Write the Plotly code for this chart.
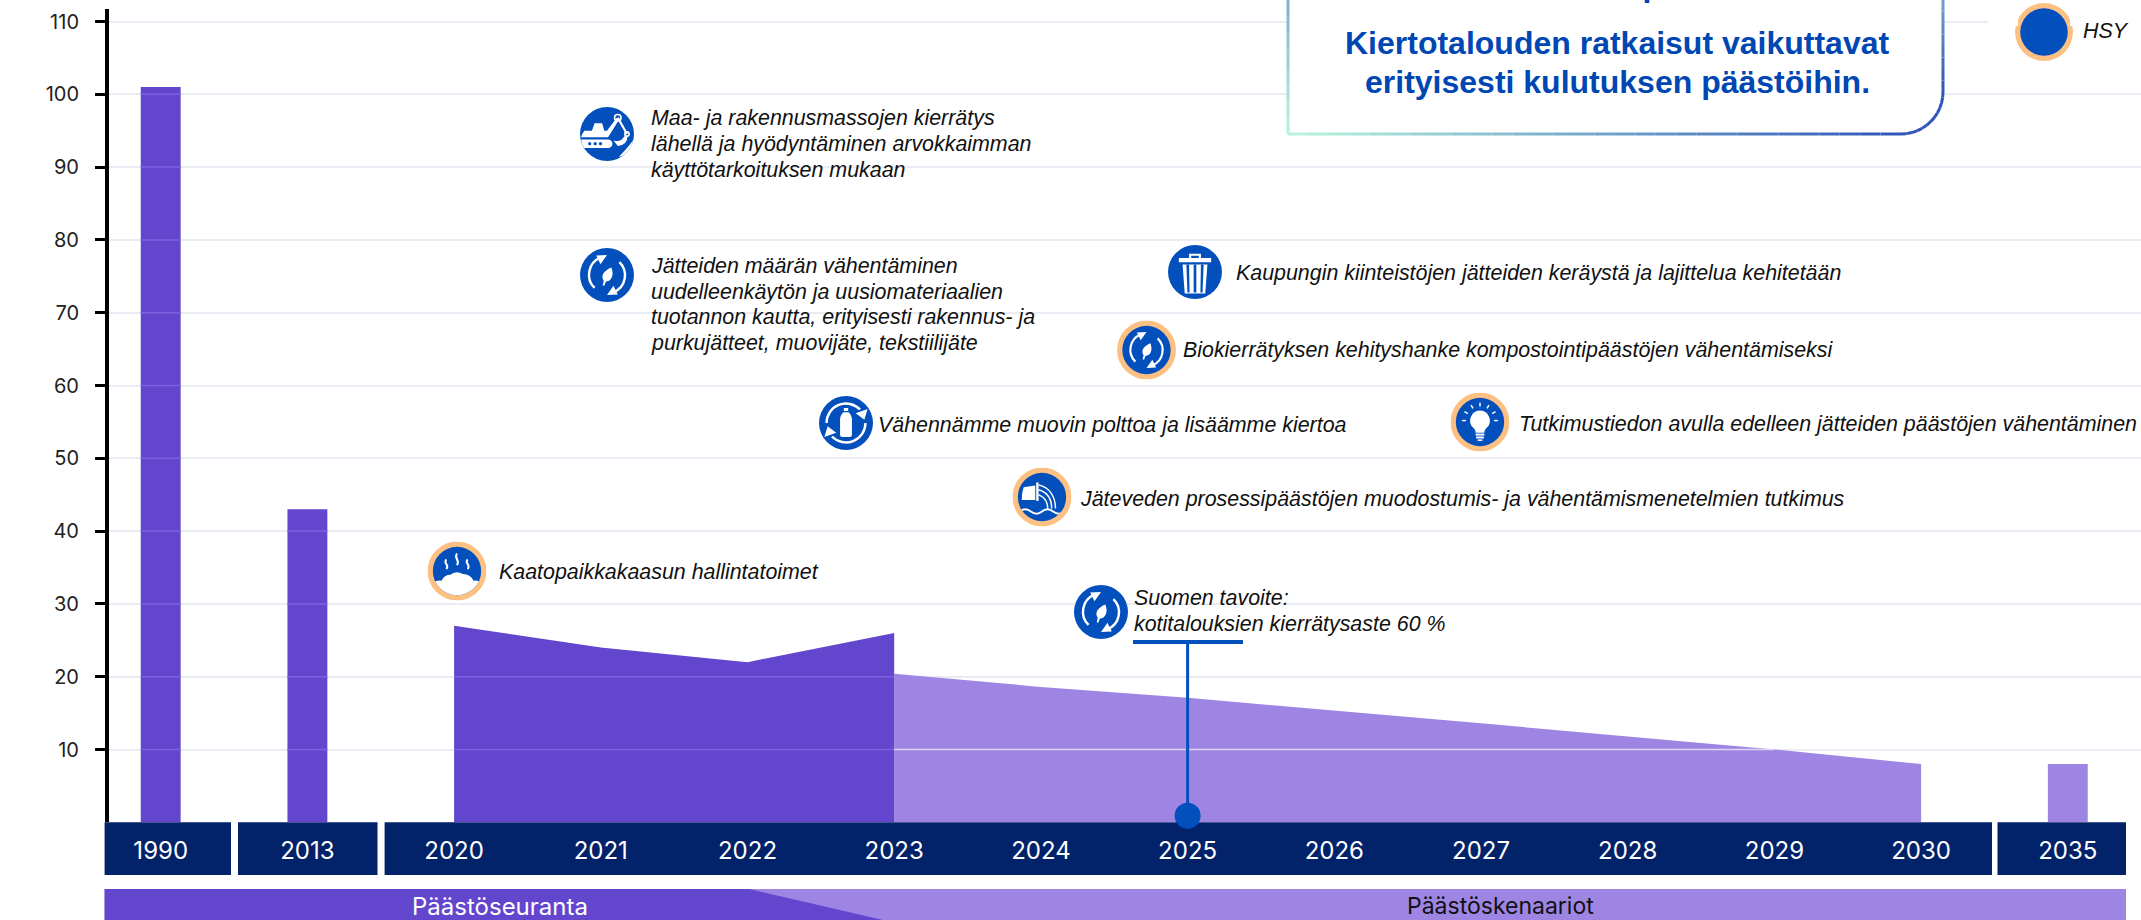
import base64, math
import plotly.graph_objects as go

W, H = 2141, 920
PLOT_L, PLOT_R, PLOT_T, PLOT_B = 109, 2141, 9, 822.3

categories = ["1990", "2013", "2020", "2021", "2022", "2023", "2024", "2025", "2026",
              "2027", "2028", "2029", "2030", "2035"]
y_ticks = [10, 20, 30, 40, 50, 60, 70, 80, 90, 100, 110]

bar_years = ["1990", "2013"]
bar_values = [101, 43]
history_years = ["2020", "2021", "2022", "2023"]
history_values = [27, 24, 22, 26]
scenario_years = ["2023", "2024", "2025", "2026", "2027", "2028", "2029", "2030"]
scenario_values = [20.4, 18.6, 17.1, 15.4, 13.6, 11.8, 10, 8]
target_bar_years = ["2035"]
target_bar_values = [8]
goal_year = ["2025", "2025"]
goal_values = [0.9, 24.8]

DARK, LIGHT, NAVY, BLUE, RING = "#6246cd", "#9e85e4", "#02226a", "#0350bd", "#fcc182"
GRID = "#e9edf3"


def px(x):
    return x / W


def py(y):
    return 1 - y / H


ARROWS = ('<path d="M27 74 A34 34 0 0 1 38 18" fill="none" stroke="#fff" stroke-width="4.5"/>'
          '<polygon points="50,13 38,30 30,14" fill="#fff"/>'
          '<path d="M73 26 A34 34 0 0 1 62 82" fill="none" stroke="#fff" stroke-width="4.5"/>'
          '<polygon points="50,87 62,70 70,86" fill="#fff"/>')
LEAF = '<path d="M58 36 C64 50 58 62 48 62 L45 70 L42 69 L44 61 C37 50 46 41 58 36Z" fill="#fff"/>'
BOTTLE = ('<path d="M14 50 A36 36 0 0 1 76 25" fill="none" stroke="#fff" stroke-width="4.5"/>'
          '<polygon points="90,24 84,44 68,32" fill="#fff"/>'
          '<path d="M86 50 A36 36 0 0 1 24 75" fill="none" stroke="#fff" stroke-width="4.5"/>'
          '<polygon points="10,76 16,56 32,68" fill="#fff"/>'
          '<path d="M46 22 h8 v6 h-8z M45 30 h10 c4 5 6 8 6 13 v29 a4 4 0 0 1 -4 4 h-14 a4 4 0 0 1 -4 -4 v-29 c0 -5 2 -8 6 -13z" fill="#fff"/>')
TRASH = ('<path d="M39 16 h22 v8 h-4 v-4 h-14 v4 h-4z M20 24 h60 v8 h-60z" fill="#fff"/>'
         '<path d="M27 36 h46 l-4 54 h-38z" fill="#fff"/>'
         '<path d="M34 36 h5 l1 52 h-4z M47.5 36 h5 v52 h-5z M61 36 h5 l-2 52 h-4z" fill="#0350bd"/>')
BULB = ('<path d="M50 26 a21 21 0 0 1 13 37 c-3 3 -4 6 -4 9 h-18 c0 -3 -1 -6 -4 -9 a21 21 0 0 1 13 -37z" fill="#fff"/>'
        '<rect x="41" y="74" width="18" height="4" fill="#fff"/><rect x="42" y="80" width="16" height="4" fill="#fff"/>'
        '<rect x="45" y="86" width="10" height="3" fill="#fff"/>'
        + "".join(f'<rect x="48.5" y="10" width="3" height="8" fill="#fff" transform="rotate({a} 50 47)"/>'
                  for a in (-90, -60, -30, 0, 30, 60, 90)))
WATER = ('<path d="M12 30 L36 26 V56 H8 Q8 42 12 30Z" fill="#fff"/><rect x="38" y="20" width="5" height="38" fill="#fff"/>'
         '<path d="M43 25 C66 30 78 50 78 74 M43 35 C60 40 70 54 70 74 M43 45 C54 50 62 58 62 74" fill="none" stroke="#fff" stroke-width="3"/>'
         '<path d="M4 80 q11 -9 23 0 t23 0 t23 0 t23 0" fill="none" stroke="#fff" stroke-width="4"/>')
EXCAVATOR = ('<path d="M8 44 h14 l5 -14 h14 l4 14 h5 L68 20 l4 4 L52 56 H2 Q3 50 8 44z" fill="#fff"/>'
             '<path d="M16 34 h9 l-3 8 h-6z" fill="#0350bd"/>'
             '<path d="M70 20 L87 50" stroke="#fff" stroke-width="4"/>'
             '<circle cx="70" cy="20" r="6" fill="none" stroke="#fff" stroke-width="3"/>'
             '<circle cx="87" cy="50" r="4" fill="none" stroke="#fff" stroke-width="3"/>'
             '<path d="M88 54 Q88 70 70 72 L62 62 Q76 66 82 54z" fill="#fff"/>'
             '<path d="M2 60 h50 a8 8 0 0 1 0 16 H7 Q3 68 2 60z" fill="#fff"/>'
             '<circle cx="18" cy="68" r="3" fill="#0350bd"/><circle cx="28" cy="68" r="3" fill="#0350bd"/><circle cx="38" cy="68" r="3" fill="#0350bd"/>'
             '<path d="M72 92 Q88 76 98 62 L100 74 Q92 90 72 92z" fill="#fff"/>')
LANDFILL = ('<path d="M0 74 Q10 68 18 70 Q24 58 36 58 Q48 48 62 56 Q78 56 84 70 Q92 68 100 74 V100 H0z" fill="#fff"/>'
            '<path d="M28 26 q-4 5 0 10 t0 10 M50 14 q-4 6 0 12 t0 12 M72 26 q-4 5 0 10 t0 10" fill="none" stroke="#fff" stroke-width="4"/>')


def icon(glyph="", ring=False):
    svg = '<svg xmlns="http://www.w3.org/2000/svg" width="240" height="240" viewBox="0 0 100 100">'
    svg += '<defs><clipPath id="c"><circle cx="50" cy="50" r="50"/></clipPath></defs>'
    if ring:
        svg += f'<circle cx="50" cy="50" r="50" fill="{RING}"/>'
        svg += f'<g transform="translate(9 9) scale(.82)"><circle cx="50" cy="50" r="50" fill="{BLUE}"/><g clip-path="url(#c)">{glyph}</g></g>'
    else:
        svg += f'<circle cx="50" cy="50" r="50" fill="{BLUE}"/><g clip-path="url(#c)">{glyph}</g>'
    svg += "</svg>"
    return "data:image/svg+xml;base64," + base64.b64encode(svg.encode()).decode()


fig = go.Figure()
fig.add_trace(go.Scatter(x=scenario_years, y=scenario_values, mode="lines", fill="tozeroy",
                         fillcolor=LIGHT, line=dict(width=0, color=LIGHT), showlegend=False, hoverinfo="skip"))
fig.add_trace(go.Scatter(x=history_years, y=history_values, mode="lines", fill="tozeroy",
                         fillcolor=DARK, line=dict(width=0, color=DARK), showlegend=False, hoverinfo="skip"))
fig.add_trace(go.Bar(x=bar_years, y=bar_values, width=0.272, marker=dict(color=DARK, line=dict(width=0)),
                     showlegend=False, hoverinfo="skip"))
fig.add_trace(go.Bar(x=target_bar_years, y=target_bar_values, width=0.272, marker=dict(color=LIGHT, line=dict(width=0)),
                     showlegend=False, hoverinfo="skip"))
fig.add_trace(go.Scatter(x=goal_year, y=goal_values, mode="lines+markers", cliponaxis=False,
                         line=dict(color=BLUE, width=3),
                         marker=dict(color=BLUE, size=[26, 0], opacity=1, line=dict(width=0)),
                         showlegend=False, hoverinfo="skip"))

shapes = []
# navy year strip
for a, b in [(104.6, 231), (238, 377.5), (384.6, 1992), (1997.5, 2126)]:
    shapes.append(dict(type="rect", xref="paper", yref="paper", x0=px(a), x1=px(b), y0=py(875), y1=py(822.3),
                       fillcolor=NAVY, line_width=0, layer="below"))
# bottom section bands
shapes.append(dict(type="rect", xref="paper", yref="paper", x0=px(104.6), x1=px(2126), y0=py(920), y1=py(889),
                   fillcolor=LIGHT, line_width=0, layer="below"))
shapes.append(dict(type="path", xref="paper", yref="paper",
                   path=f"M{px(104.6)} {py(889)} L{px(749)} {py(889)} L{px(883)} {py(920)} L{px(104.6)} {py(920)} Z",
                   fillcolor=DARK, line_width=0, layer="below"))


# gridlines showing through the filled marks
def overlay(x0, x1, y, colour):
    shapes.append(dict(type="line", xref="x", yref="y", x0=x0, x1=x1, y0=y, y1=y,
                       line=dict(color=colour, width=1.5), layer="above"))


for year, value in zip(bar_years, bar_values):
    p = categories.index(year)
    for t in y_ticks:
        if t < value:
            overlay(p - 0.136, p + 0.136, t, "#8060e0")
p0 = categories.index(history_years[0])
p1 = categories.index(history_years[-1])
for t in y_ticks:
    if t < min(history_values):
        overlay(p0, p1, t, "#8060e0")
last = categories.index(scenario_years[0])
goal_pos = categories.index(goal_year[0])
for t in y_ticks:
    n = sum(1 for v in scenario_values if v >= t)
    if n >= 2:
        overlay(last, goal_pos - 0.012, t, "#dcd5f4")
        overlay(goal_pos + 0.012, last + n - 1, t, "#dcd5f4")

# goal underline
shapes.append(dict(type="line", xref="paper", yref="paper", x0=px(1133), x1=px(1243), y0=py(642), y1=py(642),
                   line=dict(color=BLUE, width=4), layer="above"))
# white covers hiding the top gridline on either side of the legend disc
for a, b in [(1988, 2018), (2070, 2141)]:
    shapes.append(dict(type="rect", xref="paper", yref="paper", x0=px(a), x1=px(b), y0=py(26), y1=py(18),
                       fillcolor="white", line_width=0, layer="above"))

# callout box with gradient edge
BX0, BX1, BY1, R = 1288, 1943, 134, 42
outline = [(BX0, -2), (BX0, BY1), (BX1 - R, BY1)]
for i in range(1, 13):
    a = math.pi / 2 * i / 12
    outline.append((BX1 - R + R * math.sin(a), BY1 - R + R * math.cos(a)))
outline.append((BX1, -2))
shapes.append(dict(type="path", xref="paper", yref="paper",
                   path="M" + " L".join(f"{px(x)} {py(y)}" for x, y in outline) + " Z",
                   fillcolor="white", line_width=0, layer="above"))


def mix(t):
    a, b = (184, 245, 220), (42, 79, 184)
    return "rgb(" + ",".join(str(round(u + (v - u) * t)) for u, v in zip(a, b)) + ")"


def edge(x0, y0, x1, y1, t0, t1, n):
    for i in range(n):
        f0, f1 = i / n, (i + 1) / n
        shapes.append(dict(type="line", xref="paper", yref="paper",
                           x0=px(x0 + (x1 - x0) * f0), x1=px(x0 + (x1 - x0) * f1),
                           y0=py(y0 + (y1 - y0) * f0), y1=py(y0 + (y1 - y0) * f1),
                           line=dict(color=mix(t0 + (t1 - t0) * (f0 + f1) / 2), width=3), layer="above"))


edge(BX0, 0, BX0, BY1, 0.42, 0, 8)
edge(BX0, BY1, BX1 - R, BY1, 0, 0.97, 30)
for i in range(12):
    a0, a1 = math.pi / 2 * i / 12, math.pi / 2 * (i + 1) / 12
    edge(BX1 - R + R * math.sin(a0), BY1 - R + R * math.cos(a0),
         BX1 - R + R * math.sin(a1), BY1 - R + R * math.cos(a1), 0.97, 0.97, 1)
edge(BX1, BY1 - R, BX1, 0, 0.97, 0.5, 8)

icons = [
    (607, 134, 54, EXCAVATOR, False), (607, 275, 54, ARROWS + LEAF, False),
    (1195, 272, 54, TRASH, False), (1146.5, 350, 59, ARROWS + LEAF, True),
    (846, 423, 54, BOTTLE, False), (1480, 422, 59, BULB, True),
    (1042, 497, 59, WATER, True), (457, 571, 59, LANDFILL, True),
    (1101, 612, 54, ARROWS + LEAF, False), (2044, 32, 58, "", True),
]
images = [dict(source=icon(g, r), xref="paper", yref="paper", x=px(cx), y=py(cy), sizex=d / W, sizey=d / H,
               xanchor="center", yanchor="middle", layer="above", sizing="stretch")
          for cx, cy, d, g, r in icons]

notes = [
    (650, 118, "Maa- ja rakennusmassojen kierrätys"),
    (650, 144, "lähellä ja hyödyntäminen arvokkaimman"),
    (650, 170, "käyttötarkoituksen mukaan"),
    (650, 266, "Jätteiden määrän vähentäminen"),
    (650, 292, "uudelleenkäytön ja uusiomateriaalien"),
    (650, 317, "tuotannon kautta, erityisesti rakennus- ja"),
    (650, 343, "purkujätteet, muovijäte, tekstiilijäte"),
    (1235, 273, "Kaupungin kiinteistöjen jätteiden keräystä ja lajittelua kehitetään"),
    (1182, 350, "Biokierrätyksen kehityshanke kompostointipäästöjen vähentämiseksi"),
    (877, 425, "Vähennämme muovin polttoa ja lisäämme kiertoa"),
    (1518, 424, "Tutkimustiedon avulla edelleen jätteiden päästöjen vähentäminen"),
    (1079, 499, "Jäteveden prosessipäästöjen muodostumis- ja vähentämismenetelmien tutkimus"),
    (498, 572, "Kaatopaikkakaasun hallintatoimet"),
    (1133, 598, "Suomen tavoite:"),
    (1133, 624, "kotitalouksien kierrätysaste 60 %"),
    (2082, 31, "HSY"),
]
annotations = [dict(xref="paper", yref="paper", x=px(x), y=py(y), text=f"<i>{t}</i>", showarrow=False, xanchor="left",
                    yanchor="middle", align="left", borderpad=0,
                    font=dict(family="Liberation Sans", size=21.4, color="#111"))
               for x, y, t in notes]
for y, t in [(-15, "totalouden päästöt."), (43, "Kiertotalouden ratkaisut vaikuttavat"), (82, "erityisesti kulutuksen päästöihin.")]:
    annotations.append(dict(xref="paper", yref="paper", x=px(1617), y=py(y), text=f"<b>{t}</b>", showarrow=False,
                            xanchor="center", yanchor="middle", borderpad=0,
                            font=dict(family="Liberation Sans", size=32, color="#0047b3")))
for x, t, c, s in [(500, "Päästöseuranta", "white", 24), (1500.6, "Päästöskenaariot", "#111", 23)]:
    annotations.append(dict(xref="paper", yref="paper", x=px(x), y=py(906), text=t, showarrow=False, xanchor="center",
                            yanchor="middle", borderpad=0, font=dict(family="Inter", size=s, color=c)))

STEP = 146.7
FIRST = 160.7
fig.update_layout(
    width=W, height=H, margin=dict(l=0, r=0, t=0, b=0), paper_bgcolor="white", plot_bgcolor="white",
    showlegend=False, barmode="overlay", shapes=shapes, images=images, annotations=annotations,
    xaxis=dict(type="category", categoryorder="array", categoryarray=categories, tickmode="array",
               tickvals=categories, ticktext=categories,
               range=[(PLOT_L - FIRST) / STEP, (PLOT_R - FIRST) / STEP],
               domain=[px(PLOT_L), px(PLOT_R)], showgrid=False, zeroline=False, showline=False,
               ticks="outside", ticklen=7, tickcolor="rgba(0,0,0,0)",
               tickfont=dict(family="Inter", size=24, color="white"), tickangle=0),
    yaxis=dict(range=[0, (PLOT_B - PLOT_T) / 7.28], domain=[py(PLOT_B), py(PLOT_T)], tickmode="array",
               tickvals=y_ticks, showgrid=True, gridcolor=GRID, gridwidth=2, zeroline=False,
               showline=True, linecolor="black", linewidth=4, ticks="outside", ticklen=10, tickwidth=2.5,
               tickcolor="black", ticklabelstandoff=12, tickfont=dict(family="Inter", size=20, color="#222")),
)
fig.write_html("out.html", config=dict(displayModeBar=False),
               post_script="document.body.style.margin='0';document.body.style.overflow='hidden';")
